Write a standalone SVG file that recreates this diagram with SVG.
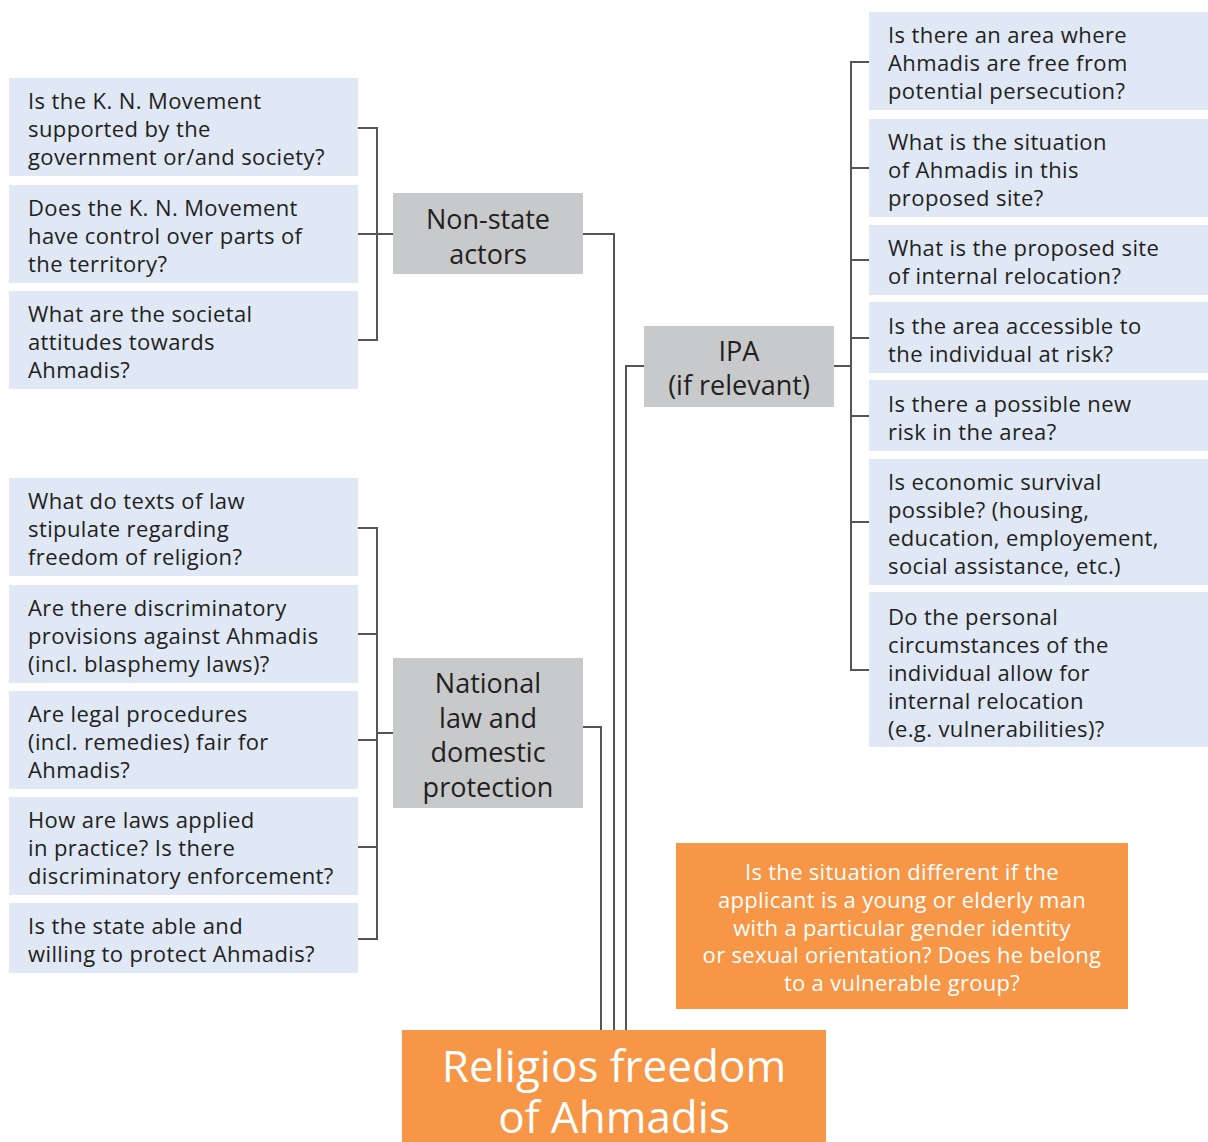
<svg xmlns="http://www.w3.org/2000/svg" width="1208" height="1142" viewBox="0 0 1208 1142">
<style>
.q{fill:#dfe8f4}
.g{fill:#c8c9cb}
.o{fill:#f79646}
.qt{font-family:"Open Sans","Noto Sans",sans-serif;font-size:22px;letter-spacing:0.4px;fill:#231f20}
.gt{font-family:"Open Sans","Noto Sans",sans-serif;font-size:27px;fill:#231f20;text-anchor:middle}
.ot{font-family:"Open Sans","Noto Sans",sans-serif;font-size:22px;letter-spacing:0.3px;fill:#ffffff;text-anchor:middle}
.tt{font-family:"Open Sans","Noto Sans",sans-serif;font-size:44px;fill:#ffffff;text-anchor:middle}
.c{fill:none;stroke:#555557;stroke-width:2}
</style>
<rect width="1208" height="1142" fill="#ffffff"/>
<g id="connectors">
<path class="c" d="M358 128H377V340H358M358 234H393"/>
<path class="c" d="M358 528H377V939H358M358 634H377M358 740H377M358 847H377M377 733H393"/>
<path class="c" d="M869 62H851V670H869M851 168H869M851 260H869M851 338H869M851 416H869M851 522H869M834 366H851"/>
<path class="c" d="M583 234H614V1030"/>
<path class="c" d="M583 727H601V1030"/>
<path class="c" d="M644 366H626V1030"/>
</g>
<g id="n-nonstate">
<rect class="g" x="393" y="193" width="190" height="81"/>
<text class="gt" x="488" y="229">Non-state</text>
<text class="gt" x="488" y="264">actors</text>
</g>
<g id="n-national">
<rect class="g" x="393" y="658" width="190" height="150"/>
<text class="gt" x="488" y="693">National</text>
<text class="gt" x="488" y="728">law and</text>
<text class="gt" x="488" y="762">domestic</text>
<text class="gt" x="488" y="797">protection</text>
</g>
<g id="n-ipa">
<rect class="g" x="644" y="326" width="190" height="81"/>
<text class="gt" x="739" y="361">IPA</text>
<text class="gt" x="739" y="395">(if relevant)</text>
</g>
<g id="q-l1"><rect class="q" x="9" y="78" width="349" height="98"/><text class="qt" x="28" y="109">Is the K. N. Movement</text><text class="qt" x="28" y="137">supported by the</text><text class="qt" x="28" y="165">government or/and society?</text></g>
<g id="q-l2"><rect class="q" x="9" y="185" width="349" height="98"/><text class="qt" x="28" y="216">Does the K. N. Movement</text><text class="qt" x="28" y="244">have control over parts of</text><text class="qt" x="28" y="272">the territory?</text></g>
<g id="q-l3"><rect class="q" x="9" y="291" width="349" height="98"/><text class="qt" x="28" y="322">What are the societal</text><text class="qt" x="28" y="350">attitudes towards</text><text class="qt" x="28" y="378">Ahmadis?</text></g>
<g id="q-n1"><rect class="q" x="9" y="478" width="349" height="98"/><text class="qt" x="28" y="509">What do texts of law</text><text class="qt" x="28" y="537">stipulate regarding</text><text class="qt" x="28" y="565">freedom of religion?</text></g>
<g id="q-n2"><rect class="q" x="9" y="585" width="349" height="98"/><text class="qt" x="28" y="616">Are there discriminatory</text><text class="qt" x="28" y="644">provisions against Ahmadis</text><text class="qt" x="28" y="672">(incl. blasphemy laws)?</text></g>
<g id="q-n3"><rect class="q" x="9" y="691" width="349" height="98"/><text class="qt" x="28" y="722">Are legal procedures</text><text class="qt" x="28" y="750">(incl. remedies) fair for</text><text class="qt" x="28" y="778">Ahmadis?</text></g>
<g id="q-n4"><rect class="q" x="9" y="797" width="349" height="98"/><text class="qt" x="28" y="828">How are laws applied</text><text class="qt" x="28" y="856">in practice? Is there</text><text class="qt" x="28" y="884">discriminatory enforcement?</text></g>
<g id="q-n5"><rect class="q" x="9" y="903" width="349" height="70"/><text class="qt" x="28" y="934">Is the state able and</text><text class="qt" x="28" y="962">willing to protect Ahmadis?</text></g>
<g id="q-r1"><rect class="q" x="869" y="12" width="339" height="98"/><text class="qt" x="888" y="43">Is there an area where</text><text class="qt" x="888" y="71">Ahmadis are free from</text><text class="qt" x="888" y="99">potential persecution?</text></g>
<g id="q-r2"><rect class="q" x="869" y="119" width="339" height="98"/><text class="qt" x="888" y="150">What is the situation</text><text class="qt" x="888" y="178">of Ahmadis in this</text><text class="qt" x="888" y="206">proposed site?</text></g>
<g id="q-r3"><rect class="q" x="869" y="225" width="339" height="70"/><text class="qt" x="888" y="256">What is the proposed site</text><text class="qt" x="888" y="284">of internal relocation?</text></g>
<g id="q-r4"><rect class="q" x="869" y="302" width="339" height="71"/><text class="qt" x="888" y="334">Is the area accessible to</text><text class="qt" x="888" y="362">the individual at risk?</text></g>
<g id="q-r5"><rect class="q" x="869" y="380" width="339" height="71"/><text class="qt" x="888" y="412">Is there a possible new</text><text class="qt" x="888" y="440">risk in the area?</text></g>
<g id="q-r6"><rect class="q" x="869" y="459" width="339" height="126"/><text class="qt" x="888" y="490">Is economic survival</text><text class="qt" x="888" y="518">possible? (housing,</text><text class="qt" x="888" y="546">education, employement,</text><text class="qt" x="888" y="574">social assistance, etc.)</text></g>
<g id="q-r7"><rect class="q" x="869" y="592" width="339" height="155"/><text class="qt" x="888" y="625">Do the personal</text><text class="qt" x="888" y="653">circumstances of the</text><text class="qt" x="888" y="681">individual allow for</text><text class="qt" x="888" y="709">internal relocation</text><text class="qt" x="888" y="737">(e.g. vulnerabilities)?</text></g>
<g id="n-situation">
<rect class="o" x="676" y="843" width="452" height="166"/>
<text class="ot" x="902" y="880">Is the situation different if the</text>
<text class="ot" x="902" y="908">applicant is a young or elderly man</text>
<text class="ot" x="902" y="936">with a particular gender identity</text>
<text class="ot" x="902" y="963">or sexual orientation? Does he belong</text>
<text class="ot" x="902" y="991">to a vulnerable group?</text>
</g>
<g id="n-root">
<rect class="o" x="402" y="1030" width="424" height="112"/>
<text class="tt" x="614" y="1082">Religios freedom</text>
<text class="tt" x="614" y="1133">of Ahmadis</text>
</g>
</svg>
